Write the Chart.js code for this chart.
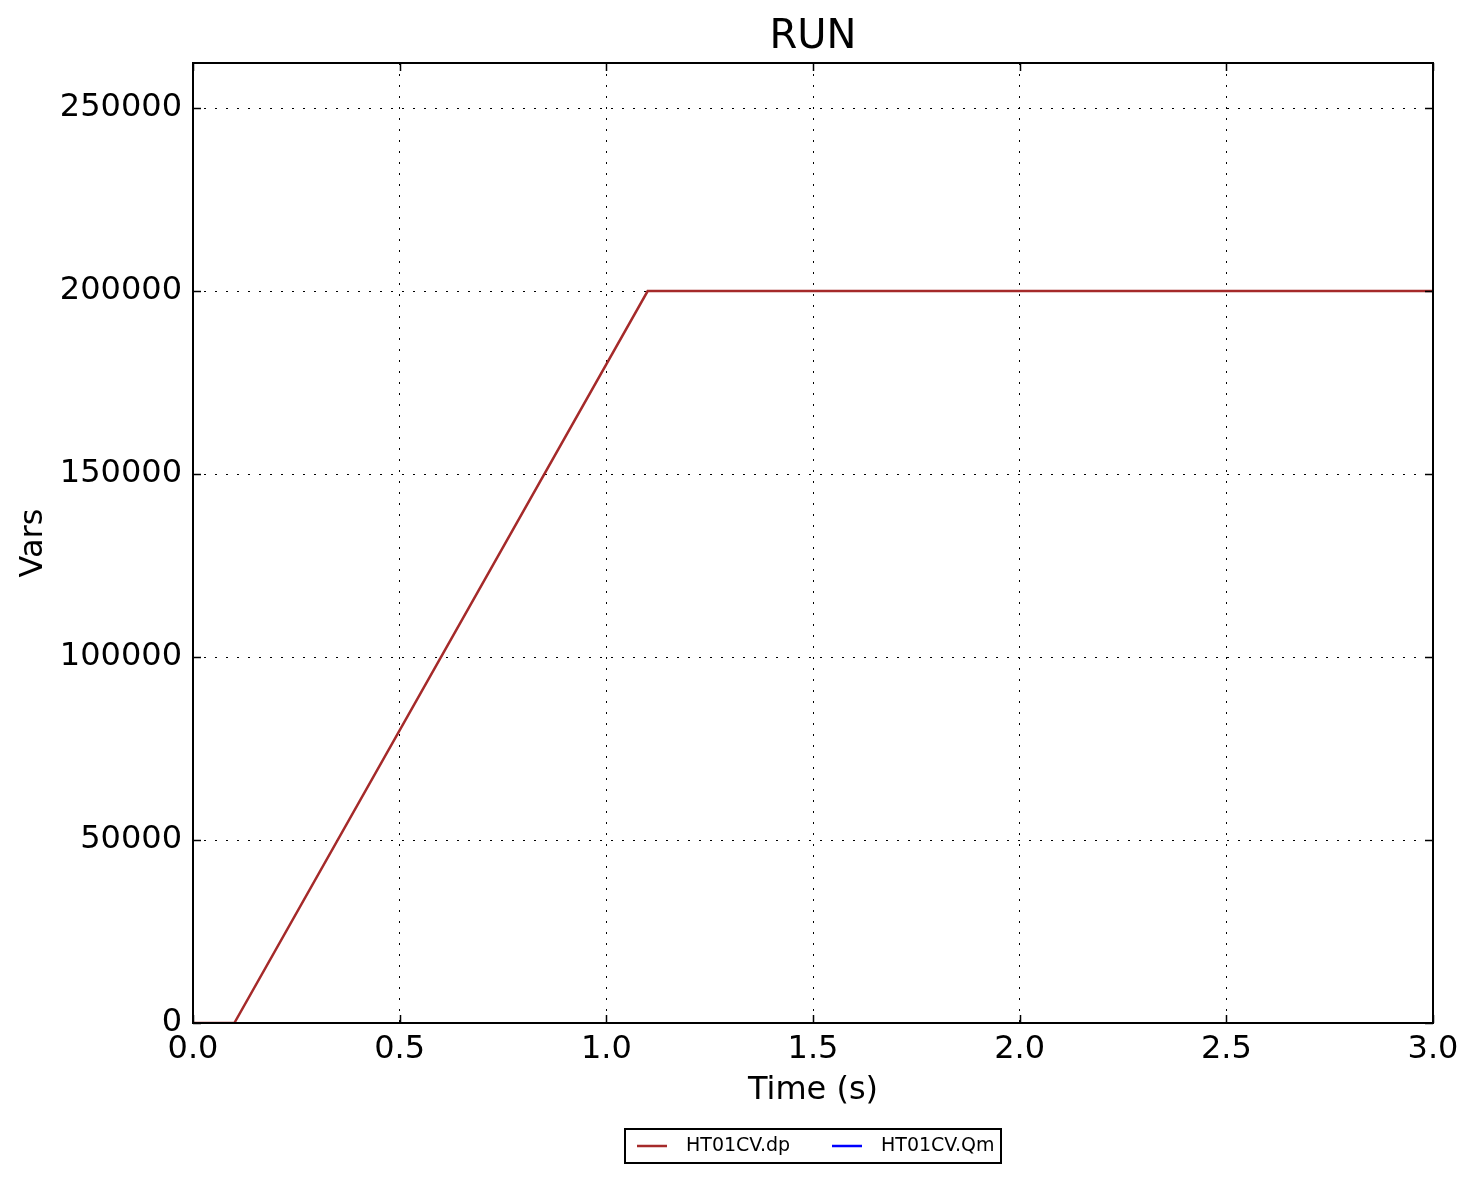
<!DOCTYPE html>
<html>
<head>
<meta charset="utf-8">
<script src="https://cdn.jsdelivr.net/npm/chart.js@4.4.1/dist/chart.umd.min.js"></script>
<style>
  html, body { margin: 0; padding: 0; background: #fff; }
  #wrap { width: 1476px; height: 1183px; position: relative; }
</style>
</head>
<body>
<div id="wrap"><canvas id="runChart"></canvas></div>
<script>
// datos
const chartTitle = "RUN";
const timeValues = [0, 0.1, 1.1, 3.0];
const dpValues = [0, 0, 200000, 200000];
const qmValues = [];
const seriesNames = ["HT01CV.dp", "HT01CV.Qm"];
const seriesColors = ["#a52a2a", "#0000ff"];
const xTicks = [0, 0.5, 1.0, 1.5, 2.0, 2.5, 3.0];
const yTicks = [0, 50000, 100000, 150000, 200000, 250000];

const FONT = "'DejaVu Sans', sans-serif";

// ticks hacia dentro, marco negro, titulo y leyenda estilo matplotlib
const mplPlugin = {
    id: "mplStyle",
    afterDraw(chart) {
        const ctx = chart.ctx;
        const a = chart.chartArea;
        const xs = chart.scales.x;
        const ys = chart.scales.y;
        const len = 8;

        ctx.save();
        ctx.strokeStyle = "#000";
        ctx.lineWidth = 1.5;
        xs.ticks.forEach(t => {
            const px = Math.round(xs.getPixelForValue(t.value)) + 0.5;
            ctx.beginPath();
            ctx.moveTo(px, a.bottom); ctx.lineTo(px, a.bottom - len);
            ctx.moveTo(px, a.top); ctx.lineTo(px, a.top + len);
            ctx.stroke();
        });
        ys.ticks.forEach(t => {
            const py = Math.round(ys.getPixelForValue(t.value)) + 0.5;
            ctx.beginPath();
            ctx.moveTo(a.left, py); ctx.lineTo(a.left + len, py);
            ctx.moveTo(a.right, py); ctx.lineTo(a.right - len, py);
            ctx.stroke();
        });

        // marco
        ctx.lineWidth = 2;
        ctx.strokeRect(a.left, a.top, a.right - a.left, a.bottom - a.top);

        // titulo
        ctx.fillStyle = "#000";
        ctx.font = "40px " + FONT;
        ctx.textAlign = "center";
        ctx.textBaseline = "middle";
        ctx.fillText(chartTitle, (a.left + a.right) / 2, 38);

        // leyenda
        const boxW = 376, boxH = 34;
        const bx = Math.round((a.left + a.right) / 2 - boxW / 2);
        const by = 1129;
        ctx.fillStyle = "#fff";
        ctx.fillRect(bx, by, boxW, boxH);
        ctx.lineWidth = 2;
        ctx.strokeStyle = "#000";
        ctx.strokeRect(bx, by, boxW, boxH);
        ctx.font = "19px " + FONT;
        ctx.textAlign = "left";
        chart.data.datasets.forEach((ds, i) => {
            const ox = bx + 12 + i * 195;
            const cy = by + boxH / 2;
            ctx.strokeStyle = ds.borderColor;
            ctx.lineWidth = 2.5;
            ctx.beginPath();
            ctx.moveTo(ox, cy); ctx.lineTo(ox + 30, cy);
            ctx.stroke();
            ctx.fillStyle = "#000";
            ctx.fillText(ds.label, ox + 49, cy);
        });
        ctx.restore();
    }
};

const ctx = document.getElementById("runChart");
new Chart(ctx, {
    type: "line",
    data: {
        datasets: [
            {
                label: seriesNames[0],
                data: timeValues.map((t, i) => ({ x: t, y: dpValues[i] })),
                borderColor: seriesColors[0],
                borderWidth: 2.5,
                pointRadius: 0,
                tension: 0
            },
            {
                label: seriesNames[1],
                data: qmValues.map((v, i) => ({ x: timeValues[i], y: v })),
                borderColor: seriesColors[1],
                borderWidth: 2.5,
                pointRadius: 0,
                tension: 0
            }
        ]
    },
    options: {
        responsive: true,
        maintainAspectRatio: false,
        animation: false,
        layout: { padding: { left: 0, right: 43, top: 63, bottom: 70 } },
        plugins: {
            legend: { display: false },
            title: { display: false },
            tooltip: { enabled: false }
        },
        scales: {
            x: {
                type: "linear",
                min: 0,
                max: 3,
                afterFit: s => { s.height = 90; },
                afterBuildTicks: s => { s.ticks = xTicks.map(v => ({ value: v })); },
                ticks: {
                    padding: 7,
                    color: "#000",
                    font: { family: FONT, size: 32 },
                    maxRotation: 0,
                    callback: v => v.toFixed(1)
                },
                grid: {
                    color: "#000",
                    lineWidth: 1,
                    drawTicks: false
                },
                border: { display: false, dash: [2, 9] },
                title: {
                    display: true,
                    text: "Time (s)",
                    color: "#000",
                    font: { family: FONT, size: 32 },
                    padding: { top: 0, bottom: 3 }
                }
            },
            y: {
                min: 0,
                max: 262300,
                afterFit: s => { s.width = 193; },
                afterBuildTicks: s => { s.ticks = yTicks.map(v => ({ value: v })); },
                ticks: {
                    padding: 11,
                    color: "#000",
                    font: { family: FONT, size: 32 },
                    callback: v => String(v)
                },
                grid: {
                    color: "#000",
                    lineWidth: 1,
                    drawTicks: false
                },
                border: { display: false, dash: [2, 9] },
                title: {
                    display: true,
                    text: "Vars",
                    color: "#000",
                    font: { family: FONT, size: 32 },
                    padding: { top: 14, bottom: 0 }
                }
            }
        }
    },
    plugins: [mplPlugin]
});
</script>
</body>
</html>
